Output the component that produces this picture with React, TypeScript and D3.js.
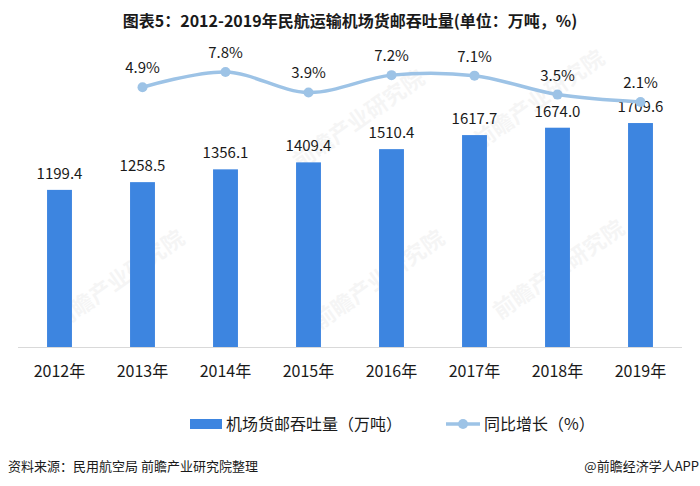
import React from "react";
import * as d3 from "d3";

const years = ["2012年", "2013年", "2014年", "2015年", "2016年", "2017年", "2018年", "2019年"];
const volume = [1199.4, 1258.5, 1356.1, 1409.4, 1510.4, 1617.7, 1674.0, 1709.6];
const growthYears = ["2013年", "2014年", "2015年", "2016年", "2017年", "2018年", "2019年"];
const growth = [4.9, 7.8, 3.9, 7.2, 7.1, 3.5, 2.1];

const W = 700;
const H = 486;
const FONT = "'Noto Sans CJK SC', 'Noto Sans', sans-serif";
const BAR = "#3d85e0";
const LINE = "#9dc3e6";
const TXT = "#1a1a1a";

export default function App() {
  const x = d3.scaleBand<string>().domain(years).range([18, 682]).paddingInner(0.7).paddingOuter(0.35);
  const y = d3.scaleLinear().domain([0, 1800]).range([347, 347 - 1800 * 0.131]);
  const yp = d3.scaleLinear().domain([0, 10]).range([113, 60.4]);
  const cx = (c: string) => (x(c) as number) + x.bandwidth() / 2;

  const pts: [number, number][] = growthYears.map((c, i) => [cx(c), yp(growth[i])]);
  const line = d3.line().curve(d3.curveCatmullRom.alpha(0.5))(pts) || "";

  const wm = [
    [60, 330], [300, 170], [480, 150], [320, 330], [500, 320],
  ];

  return (
    <svg width={W} height={H} style={{ position: "absolute", left: 0, top: 0, background: "#fff" }} fontFamily={FONT}>
      <rect width={W} height={H} fill="#fff" />
      {wm.map(([wx, wy], i) => (
        <text key={i} x={wx} y={wy} transform={`rotate(-35 ${wx} ${wy})`} fontSize={22} fontWeight="bold" fill="#000" opacity={0.035}>
          前瞻产业研究院
        </text>
      ))}
      <text x={350} y={27} textAnchor="middle" fontSize={16} fontWeight="bold" fill={TXT}>
        图表5：2012-2019年民航运输机场货邮吞吐量(单位：万吨，%)
      </text>
      <line x1={18} x2={682} y1={347.5} y2={347.5} stroke="#d9d9d9" strokeWidth={1} />
      {years.map((c, i) => (
        <g key={c}>
          <rect x={x(c)} y={y(volume[i])} width={x.bandwidth()} height={y(0) - y(volume[i])} fill={BAR} />
          <text x={cx(c)} y={y(volume[i]) - 11} textAnchor="middle" fontSize={15} fill={TXT}>
            {volume[i].toFixed(1)}
          </text>
          <text x={cx(c)} y={377} textAnchor="middle" fontSize={16} fill={TXT}>
            {c}
          </text>
        </g>
      ))}
      <path d={line} fill="none" stroke={LINE} strokeWidth={3.5} />
      {growthYears.map((c, i) => (
        <g key={c}>
          <circle cx={cx(c)} cy={yp(growth[i])} r={5} fill={LINE} />
          <text x={cx(c)} y={yp(growth[i]) - 14} textAnchor="middle" fontSize={15} fill={TXT}>
            {growth[i].toFixed(1)}%
          </text>
        </g>
      ))}
      <rect x={190} y={419} width={32} height={10} fill={BAR} />
      <text x={226} y={430} fontSize={16} fill={TXT}>机场货邮吞吐量（万吨）</text>
      <line x1={446} x2={480} y1={424} y2={424} stroke={LINE} strokeWidth={3.5} />
      <circle cx={463} cy={424} r={5} fill={LINE} />
      <text x={484} y={430} fontSize={16} fill={TXT}>同比增长（%）</text>
      <text x={8} y={471} fontSize={13} fill={TXT}>资料来源：民用航空局 前瞻产业研究院整理</text>
      <text x={699} y={471} textAnchor="end" fontSize={13} fill={TXT}>@前瞻经济学人APP</text>
    </svg>
  );
}
